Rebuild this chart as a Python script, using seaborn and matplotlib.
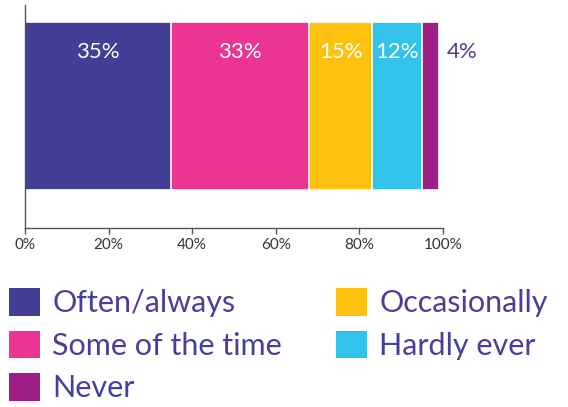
import matplotlib
matplotlib.use("Agg")
import matplotlib.pyplot as plt
from matplotlib.patches import Patch
import seaborn as sns
import pandas as pd
import numpy as np

categories = ["Often/always", "Some of the time", "Occasionally", "Hardly ever", "Never"]
shares = [35, 33, 15, 12, 4]
colors = ["#433e96", "#ec3593", "#fdc210", "#31c3e9", "#a01f87"]
tick_values = [0, 20, 40, 60, 80, 100]
tick_labels = ["0%", "20%", "40%", "60%", "80%", "100%"]

sns.set_theme(style="white")
plt.rcParams["font.family"] = ["Lato", "DejaVu Sans"]

indigo = "#46409a"

fig = plt.figure(figsize=(5.68, 4.07), dpi=100)
ax = fig.add_axes([0.044, 0.44, 0.736, 0.548])

# stacked bar: draw cumulative totals from the longest down so each segment sits on top
cum = np.cumsum(shares)
df = pd.DataFrame({"cat": categories, "share": shares, "cum": cum, "row": ["all"] * len(shares)})
for i in range(len(categories) - 1, -1, -1):
    sub = df.iloc[[i]]
    sns.barplot(data=sub, x="cum", y="row", color=colors[i], orient="h",
                width=0.8, edgecolor="white", linewidth=1.2, saturation=1, ax=ax)

# value labels
starts = cum - np.array(shares)
for i, (s, v) in enumerate(zip(starts, shares)):
    if v >= 10:
        ax.text(s + v / 2, -0.255, f"{v}%", ha="center", va="center",
                color="white", fontsize=16)
    else:
        ax.text(cum[i] + 2, -0.255, f"{v}%", ha="left", va="center",
                color=indigo, fontsize=16)

ax.set_xlim(0, 100)
ax.set_ylim(0.58, -0.481)
ax.set_xticks(tick_values)
ax.set_xticklabels(tick_labels, fontsize=11, color="#333333")
ax.set_yticks([])
ax.set_xlabel("")
ax.set_ylabel("")
ax.tick_params(axis="x", direction="out", length=4, width=1, color="#555555", bottom=True, pad=3)
for side in ["top", "right"]:
    ax.spines[side].set_visible(False)
for side in ["left", "bottom"]:
    ax.spines[side].set_color("#555555")
    ax.spines[side].set_linewidth(1)

handles = [Patch(facecolor=c, edgecolor="none") for c in colors]
order = [0, 1, 4, 2, 3]
leg = fig.legend([handles[i] for i in order], [categories[i] for i in order],
                 loc="upper left", bbox_to_anchor=(0.016, 0.292), ncol=2, frameon=False,
                 fontsize=22, handlelength=1.0, handleheight=1.0, handletextpad=0.42,
                 labelspacing=0.44, columnspacing=1.76, borderaxespad=0, borderpad=0)
for t in leg.get_texts():
    t.set_color(indigo)

fig.savefig("out.png", dpi=100)
